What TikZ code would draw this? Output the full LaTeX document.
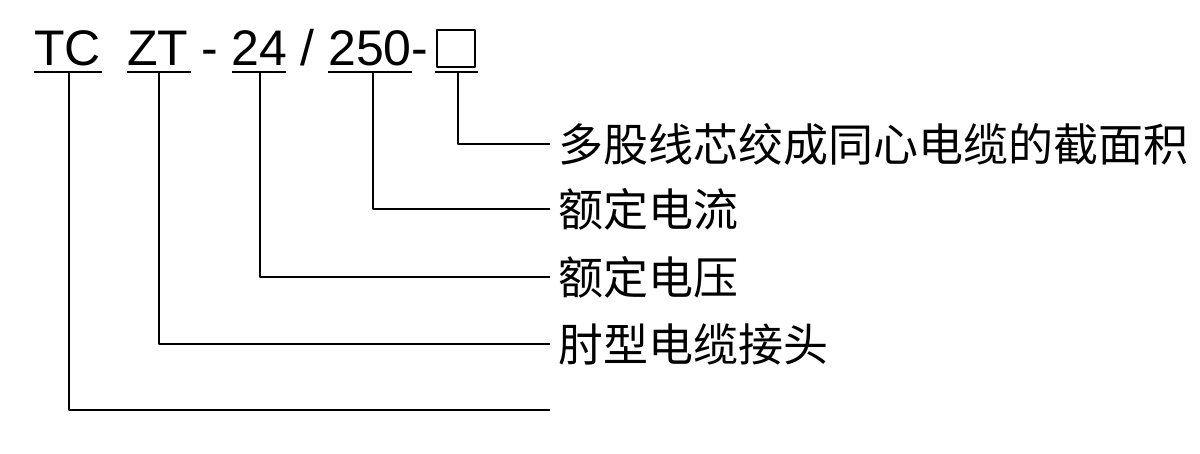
\documentclass[tikz,border=0pt]{standalone}
\usepackage{fontspec}
\setmainfont{Liberation Sans}
\newfontfamily\cjk{Noto Sans CJK SC}
\begin{document}
\begin{tikzpicture}[x=1pt, y=-1pt, line join=round, line cap=butt,
	code/.style={anchor=base west, inner sep=0pt, font=\fontsize{50}{50}\selectfont},
	lab/.style={anchor=west, inner sep=0pt, font=\cjk\fontsize{45}{45}\selectfont},
	uline/.style={line width=2pt},
	lead/.style={line width=1.4pt}]
		\useasboundingbox (0,0) rectangle (1200,454);
		\def\ybase{66}\def\yu{72}\def\xend{550}
		% model code
		\node[code] (tc) at (34,\ybase) {TC};
		\node[code] (zt) at (127,\ybase) {ZT};
		\node[code] (d1) at (201,\ybase) {-};
		\node[code] (kv) at (231,\ybase) {24};
		\node[code] (sl) at (300,\ybase) {/};
		\node[code] (amp) at (328,\ybase) {250};
		\node[code] (d2) at (411,\ybase) {-};
		\node[draw, line width=2pt, minimum width=38pt, minimum height=37pt, inner sep=0pt] (box) at (456,48.5) {};
		% underlines
		\foreach \a/\b in {34/102, 127/191, 232/286, 328/412, 435/478}\draw[uline] (\a,\yu)--(\b,\yu);
		% labels
		\node[lab] (larea) at (558,144) {多股线芯绞成同心电缆的截面积};
		\node[lab] (lamp) at (558,209) {额定电流};
		\node[lab] (lkv) at (558,277) {额定电压};
		\node[lab] (lzt) at (558,344) {肘型电缆接头};
		\coordinate (ltc) at (558,410);
		% leaders
		\foreach \x/\l in {458/larea, 373/lamp, 260/lkv, 159/lzt, 69/ltc}
			\draw[lead] (\x,\yu) |- ([xshift=-8pt]\l.west);
\end{tikzpicture}
\end{document}
